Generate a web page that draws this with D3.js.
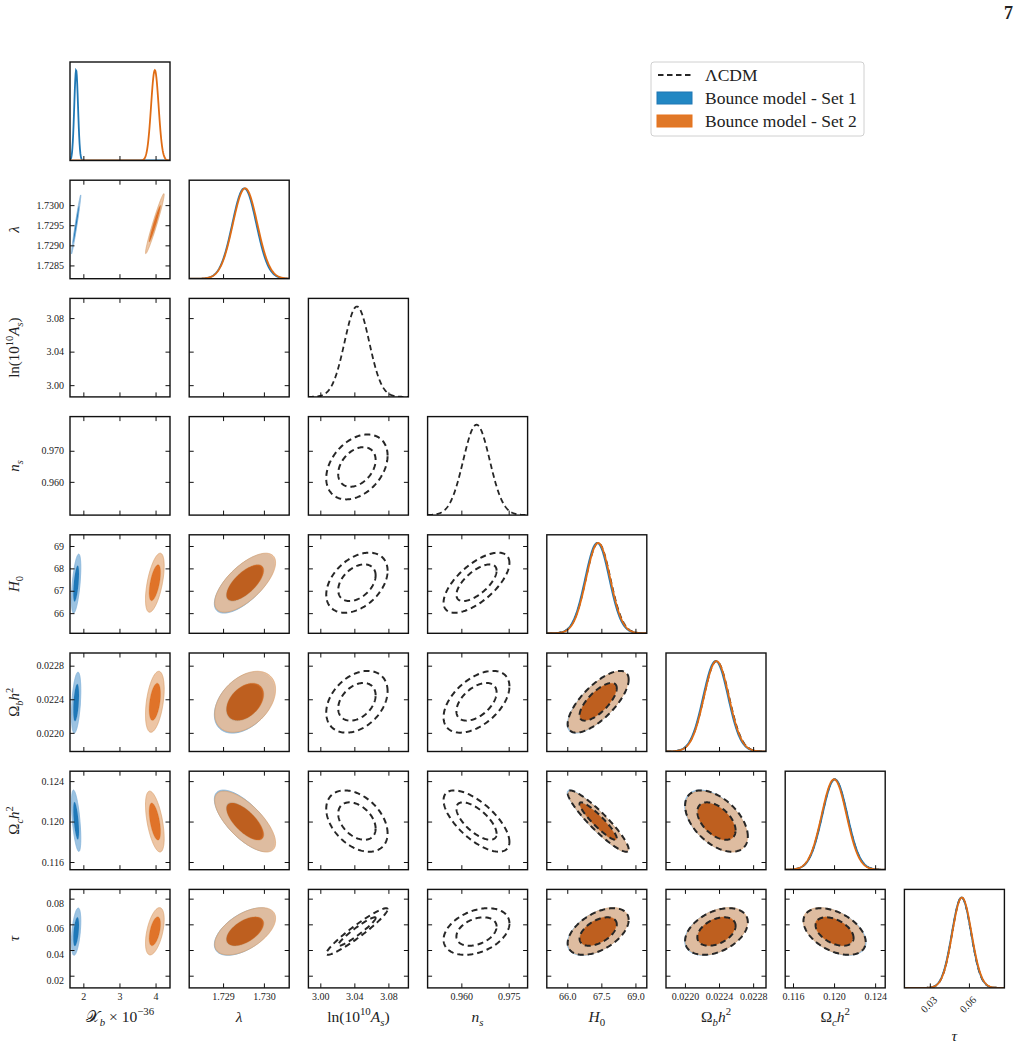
<!DOCTYPE html>
<html><head><meta charset="utf-8">
<script src="https://cdn.jsdelivr.net/npm/d3@7"></script>
<style>
body{margin:0;background:#fff}
svg{display:block}
text{font-family:"Liberation Serif","DejaVu Serif",serif;fill:#222}
</style>
</head><body>
<svg id="c" width="1019" height="1047"></svg>
<script>
// ---------------- data ----------------
const PARAMS = ["Xb", "lambda", "lnAs", "ns", "H0", "ombh2", "omch2", "tau"];
const RANGES = [[1.63, 4.40], [1.72817, 1.73062], [2.986, 3.1035], [0.9493, 0.981],
                [65.1, 69.5], [0.021778, 0.022951], [0.11524, 0.12498], [0.0105, 0.0872]];
const X_TICKS = [[2, 3, 4], [1.729, 1.730], [3.00, 3.04, 3.08], [0.960, 0.975],
                 [66.0, 67.5, 69.0], [0.0220, 0.0224, 0.0228], [0.116, 0.120, 0.124], [0.03, 0.06]];
const X_TICK_LABELS = [["2", "3", "4"], ["1.729", "1.730"], ["3.00", "3.04", "3.08"], ["0.960", "0.975"],
                       ["66.0", "67.5", "69.0"], ["0.0220", "0.0224", "0.0228"], ["0.116", "0.120", "0.124"], ["0.03", "0.06"]];
const Y_TICKS = [[], [1.7285, 1.7290, 1.7295, 1.7300], [3.00, 3.04, 3.08], [0.960, 0.970],
                 [66, 67, 68, 69], [0.0220, 0.0224, 0.0228], [0.116, 0.120, 0.124], [0.02, 0.04, 0.06, 0.08]];
const Y_TICK_LABELS = [[], ["1.7285", "1.7290", "1.7295", "1.7300"], ["3.00", "3.04", "3.08"], ["0.960", "0.970"],
                       ["66", "67", "68", "69"], ["0.0220", "0.0224", "0.0228"], ["0.116", "0.120", "0.124"], ["0.02", "0.04", "0.06", "0.08"]];

// posterior summaries: mean, sigma per parameter (null = parameter not in model)
const LCDM_MEAN  = [null, null, 3.043, 0.9648, 67.36, 0.02237, 0.12005, 0.0544];
const LCDM_SIGMA = [null, null, 0.0145, 0.0042, 0.54, 0.000148, 0.00122, 0.0073];
const SET1_MEAN  = [1.80, 1.72952, null, null, 67.32, 0.02236, 0.12008, 0.0543];
const SET1_SIGMA = [0.052, 0.000295, null, null, 0.53, 0.000146, 0.00122, 0.0074];
const SET2_MEAN  = [3.98, 1.72954, null, null, 67.36, 0.02237, 0.12000, 0.0546];
const SET2_SIGMA = [0.104, 0.000300, null, null, 0.53, 0.000146, 0.00121, 0.0074];

// pairwise correlations [i, j, rho]
const LCDM_CORR = [[2,3,0.35],[2,4,0.40],[3,4,0.66],[2,5,0.35],[3,5,0.50],[4,5,0.72],
                   [2,6,-0.40],[3,6,-0.68],[4,6,-0.92],[5,6,-0.50],
                   [2,7,0.95],[3,7,0.35],[4,7,0.50],[5,7,0.40],[6,7,-0.45]];
const SET1_CORR = [[0,1,0.98],[0,4,0.55],[1,4,0.68],[0,5,0.40],[1,5,0.40],[4,5,0.72],
                   [0,6,-0.58],[1,6,-0.70],[4,6,-0.92],[5,6,-0.50],
                   [0,7,0.45],[1,7,0.55],[4,7,0.50],[5,7,0.40],[6,7,-0.45]];
const SET2_CORR = [[0,1,0.97],[0,4,0.57],[1,4,0.68],[0,5,0.42],[1,5,0.40],[4,5,0.72],
                   [0,6,-0.55],[1,6,-0.70],[4,6,-0.92],[5,6,-0.50],
                   [0,7,0.50],[1,7,0.55],[4,7,0.50],[5,7,0.40],[6,7,-0.45]];
const CONTOUR_LEVELS = [6.18, 2.30];   // delta chi^2 for 95% and 68%

const LEGEND_LABELS = ["ΛCDM", "Bounce model - Set 1", "Bounce model - Set 2"];
const AXIS_LABELS = [
  [{t:"𝒳"},{t:"b",sub:1,i:1},{t:" × 10"},{t:"−36",sup:1}],
  [{t:"λ",i:1}],
  [{t:"ln(10"},{t:"10",sup:1},{t:"A",i:1},{t:"s",sub:1,i:1},{t:")"}],
  [{t:"n",i:1},{t:"s",sub:1,i:1}],
  [{t:"H",i:1},{t:"0",sub:1}],
  [{t:"Ω"},{t:"b",sub:1,i:1},{t:"h",i:1},{t:"2",sup:1}],
  [{t:"Ω"},{t:"c",sub:1,i:1},{t:"h",i:1},{t:"2",sup:1}],
  [{t:"τ",i:1}]
];

// ---------------- layout / style ----------------
const svg = d3.select("#c");
const L0 = 70, T0 = 62, CS = 119.2, RS = 118.2, W = 100, H = 98.5;
const N = PARAMS.length;
const TICK = 4.5;
const FONT = '"Liberation Serif","DejaVu Serif",serif';

const MODELS = [
  {mean: LCDM_MEAN, sigma: LCDM_SIGMA, corr: LCDM_CORR, kind: "lcdm"},
  {mean: SET1_MEAN, sigma: SET1_SIGMA, corr: SET1_CORR, kind: "set1",
   fill: ["#9cc3e2", "#1f78b8"], stroke: ["#7fb0d8", "#1f78b8"], opacity: 1, line: "#1f77b4"},
  {mean: SET2_MEAN, sigma: SET2_SIGMA, corr: SET2_CORR, kind: "set2",
   fill: ["#eabb94", "#da5b03"], stroke: ["#d9a06e", "#da5b03"], opacity: 0.85, line: "#e06c14"}
];

function corrOf(list, i, j) {
  for (const [a, b, r] of list) if ((a === i && b === j) || (a === j && b === i)) return r;
  return 0;
}

function richText(sel, parts, size) {
  let shift = 0;
  parts.forEach(p => {
    const ts = sel.append("tspan").text(p.t);
    const target = p.sub ? size * 0.28 : p.sup ? -size * 0.42 : 0;
    if (target - shift !== 0) ts.attr("dy", target - shift);
    shift = target;
    if (p.sub || p.sup) ts.attr("font-size", size * 0.7);
    if (p.i) ts.attr("font-style", "italic");
  });
}

function ellipsePts(mx, my, sx, sy, rho, k) {
  const r = Math.sqrt(k), q = Math.sqrt(1 - rho * rho);
  return d3.range(0, 2 * Math.PI, Math.PI / 90).map(t =>
    [mx + r * sx * Math.cos(t), my + r * sy * (rho * Math.cos(t) + q * Math.sin(t))]);
}

for (let r = 0; r < N; r++) {
  for (let c = 0; c <= r; c++) {
    const g = svg.append("g").attr("transform", `translate(${L0 + c * CS},${T0 + r * RS})`);
    const cid = `clip-${r}-${c}`;
    g.append("clipPath").attr("id", cid).append("rect").attr("width", W).attr("height", H);
    const plot = g.append("g").attr("clip-path", `url(#${cid})`);
    const x = d3.scaleLinear().domain(RANGES[c]).range([0, W]);

    if (r === c) {
      const y = d3.scaleLinear().domain([0, 1.09]).range([H, 0]);
      const xs = d3.range(0, 1.0001, 0.004).map(t => RANGES[c][0] + t * (RANGES[c][1] - RANGES[c][0]));
      MODELS.forEach(m => {
        if (m.mean[c] == null) return;
        const pts = xs.map(v => [v, Math.exp(-0.5 * ((v - m.mean[c]) / m.sigma[c]) ** 2)]);
        const line = d3.line().x(d => x(d[0])).y(d => y(d[1]));
        const p = plot.append("path").attr("d", line(pts)).attr("fill", "none");
        if (m.kind === "lcdm") p.attr("stroke", "#262626").attr("stroke-width", 1.8).attr("stroke-dasharray", "5.5,3.5");
        else p.attr("stroke", m.line).attr("stroke-width", 1.8);
      });
      g.append("g").attr("transform", `translate(0,${H})`)
        .call(d3.axisBottom(x).tickValues(X_TICKS[c]).tickSize(-TICK).tickPadding(5).tickFormat(r === N - 1 ? (d, i) => X_TICK_LABELS[c][i] : ""))
        .call(a => a.select(".domain").remove());
    } else {
      const y = d3.scaleLinear().domain(RANGES[r]).range([H, 0]);
      const toPath = pts => "M" + pts.map(d => `${x(d[0])},${y(d[1])}`).join("L") + "Z";
      // filled contours (bounce models): 95% band (ring) + 68% core
      MODELS.filter(m => m.kind !== "lcdm").forEach(m => {
        if (m.mean[c] == null || m.mean[r] == null) return;
        const rho = corrOf(m.corr, c, r);
        const outer = ellipsePts(m.mean[c], m.mean[r], m.sigma[c], m.sigma[r], rho, CONTOUR_LEVELS[0]);
        const inner = ellipsePts(m.mean[c], m.mean[r], m.sigma[c], m.sigma[r], rho, CONTOUR_LEVELS[1]);
        plot.append("path").attr("d", toPath(outer) + toPath(inner.slice().reverse()))
          .attr("fill-rule", "evenodd")
          .attr("fill", m.fill[0]).attr("fill-opacity", m.opacity)
          .attr("stroke", m.stroke[0]).attr("stroke-opacity", m.opacity).attr("stroke-width", 0.8);
        plot.append("path").attr("d", toPath(inner))
          .attr("fill", m.fill[1]).attr("fill-opacity", m.opacity)
          .attr("stroke", "none");
      });
      // dashed contours (LCDM)
      MODELS.filter(m => m.kind === "lcdm").forEach(m => {
        if (m.mean[c] == null || m.mean[r] == null) return;
        const rho = corrOf(m.corr, c, r);
        CONTOUR_LEVELS.forEach(k => {
          const pts = ellipsePts(m.mean[c], m.mean[r], m.sigma[c], m.sigma[r], rho, k);
          plot.append("path").attr("d", toPath(pts)).attr("fill", "none")
            .attr("stroke", "#262626").attr("stroke-width", 2).attr("stroke-dasharray", "6,4");
        });
      });
      g.append("g").attr("transform", `translate(0,${H})`)
        .call(d3.axisBottom(x).tickValues(X_TICKS[c]).tickSize(-TICK).tickPadding(5).tickFormat(r === N - 1 ? (d, i) => X_TICK_LABELS[c][i] : ""))
        .call(a => a.select(".domain").remove());
      g.append("g")
        .call(d3.axisTop(x).tickValues(X_TICKS[c]).tickSize(-TICK).tickFormat(""))
        .call(a => a.select(".domain").remove());
      g.append("g")
        .call(d3.axisLeft(y).tickValues(Y_TICKS[r]).tickSize(-TICK).tickPadding(6).tickFormat(c === 0 ? (d, i) => Y_TICK_LABELS[r][i] : ""))
        .call(a => a.select(".domain").remove());
      g.append("g").attr("transform", `translate(${W},0)`)
        .call(d3.axisRight(y).tickValues(Y_TICKS[r]).tickSize(-TICK).tickFormat(""))
        .call(a => a.select(".domain").remove());
    }
    g.selectAll(".tick line").attr("stroke", "#111").attr("stroke-width", 1);
    g.selectAll(".tick text").attr("font-size", 10).attr("fill", "#222").style("font-family", FONT);
    g.append("rect").attr("width", W).attr("height", H).attr("fill", "none")
      .attr("stroke", "#111").attr("stroke-width", 1.4);

    if (r === N - 1 && c === N - 1) {
      g.selectAll(".tick text").attr("y", 0).attr("dy", "0.35em")
        .attr("text-anchor", "end").attr("transform", "translate(5,10) rotate(-45)")
        .attr("font-size", 10.5);
    } else if (r === N - 1) {
      g.selectAll(".tick text").attr("dy", "0.75em");
    }
    // axis labels
    if (r === N - 1) {
      const t = svg.append("text").attr("text-anchor", "middle").attr("font-size", 15.5)
        .attr("x", L0 + c * CS + W / 2).attr("y", c === N - 1 ? 1041 : 1022);
      richText(t, AXIS_LABELS[c], 15.5);
    }
    if (c === 0 && r > 0) {
      const cy = T0 + r * RS + H / 2;
      const t = svg.append("text").attr("text-anchor", "middle").attr("font-size", 15)
        .attr("transform", `translate(19,${cy}) rotate(-90)`);
      richText(t, AXIS_LABELS[r], 15);
    }
  }
}

// page number
svg.append("text").attr("x", 1013).attr("y", 19).attr("text-anchor", "end")
  .attr("font-size", 18).attr("font-weight", "bold").text("7");

// legend
const lg = svg.append("g").attr("transform", "translate(651,62)");
lg.append("rect").attr("width", 213).attr("height", 74).attr("rx", 3)
  .attr("fill", "#fff").attr("stroke", "#d0d0d0").attr("stroke-width", 1);
lg.append("line").attr("x1", 7).attr("x2", 41).attr("y1", 13).attr("y2", 13)
  .attr("stroke", "#262626").attr("stroke-width", 1.8).attr("stroke-dasharray", "5.5,3.5");
lg.append("rect").attr("x", 6).attr("y", 30).attr("width", 35).attr("height", 12)
  .attr("fill", "#2287c3").attr("stroke", "#1f77b4").attr("stroke-width", 1);
lg.append("rect").attr("x", 6).attr("y", 53).attr("width", 35).attr("height", 12)
  .attr("fill", "#e07828").attr("stroke", "#e8731a").attr("stroke-width", 1);
LEGEND_LABELS.forEach((s, i) => {
  lg.append("text").attr("x", 54).attr("y", 13 + i * 23).attr("dy", "0.35em")
    .attr("font-size", 17.5).text(s);
});
</script>
</body></html>
